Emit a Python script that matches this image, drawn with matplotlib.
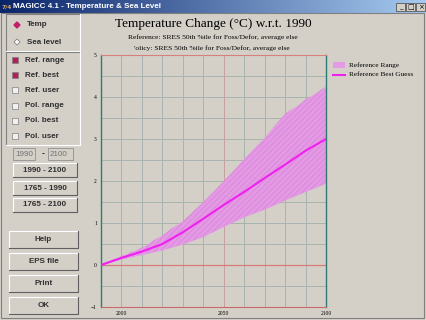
import numpy as np
import matplotlib.pyplot as plt
from matplotlib.patches import Rectangle, Polygon
from matplotlib.colors import LinearSegmentedColormap

# values
years = [1990, 2000, 2010, 2020, 2030, 2040, 2050, 2060, 2070, 2080, 2090, 2100]
best = [0.0, 0.17, 0.32, 0.5, 0.78, 1.1, 1.43, 1.74, 2.07, 2.39, 2.72, 3.0]
upper = [0.0, 0.22, 0.42, 0.72, 1.06, 1.5, 2.0, 2.55, 3.05, 3.6, 3.95, 4.25]
lower = [0.0, 0.14, 0.25, 0.36, 0.5, 0.68, 0.92, 1.15, 1.33, 1.55, 1.75, 1.95]
yticks = [-1, 0, 1, 2, 3, 4, 5]
xticks = [2000, 2050, 2100]

W, H = 426, 320
BG = '#d4d0c8'

fig = plt.figure(figsize=(W / 100, H / 100), dpi=100, facecolor=BG)

# whole window drawn in pixel coords
gui = fig.add_axes([0, 0, 1, 1], zorder=0)
gui.set_xlim(0, W)
gui.set_ylim(H, 0)
gui.axis('off')
gui.set_facecolor(BG)

# title bar
grad = np.linspace(0, 1, 256).reshape(1, -1)
cm = LinearSegmentedColormap.from_list('tb', ['#0a246a', '#a6caf0'])
gui.imshow(grad, cmap=cm, extent=(0, W, 13, 0), aspect='auto', zorder=1)
gui.text(1.5, 6.8, '7/4', color='#d0a868', fontsize=4.2, fontweight='bold', va='center', zorder=2)
gui.text(13, 6.8, 'MAGICC 4.1 - Temperature & Sea Level', color='white', fontsize=5.8,
         fontweight='bold', va='center', family='Liberation Sans', zorder=2)
for i, s in enumerate(['_', '□', '×']):
    x0 = 396 + i * 10
    gui.add_patch(Rectangle((x0, 3), 9, 8, facecolor=BG, edgecolor='#404040', lw=0.5, zorder=2))
    gui.text(x0 + 4.5, 7, s, fontsize=5, ha='center', va='center', zorder=3)

# window frame
gui.add_patch(Rectangle((1, 13), W - 3, H - 15, fill=False, edgecolor='#808080', lw=0.8, zorder=1))


def bevel(x, y, w, h, raised=True):
    light, dark = ('white', '#606060') if raised else ('#808080', 'white')
    gui.add_patch(Rectangle((x, y), w, h, facecolor=BG, edgecolor='none', zorder=1))
    gui.plot([x, x, x + w], [y + h, y, y], color=light, lw=0.8, zorder=2)
    gui.plot([x, x + w, x + w], [y + h, y + h, y], color=dark, lw=0.8, zorder=2)


# group boxes
bevel(6, 14, 74, 37, raised=False)
bevel(6, 52, 74, 93, raised=False)

gui.add_patch(Polygon([(17, 22), (20, 25), (17, 28), (14, 25)], closed=True,
                      facecolor='#c02068', edgecolor='#c02068', zorder=3))
gui.add_patch(Polygon([(17, 39), (20, 42), (17, 45), (14, 42)], closed=True,
                      facecolor='white', edgecolor='#808080', lw=0.6, zorder=3))
gui.text(27, 25, 'Temp', fontsize=5.8, fontweight='bold', va='center', family='Liberation Sans',
         color='#303030', zorder=3)
gui.text(27, 42, 'Sea level', fontsize=5.8, fontweight='bold', va='center', family='Liberation Sans',
         color='#303030', zorder=3)

checks = ['Ref. range', 'Ref. best', 'Ref. user', 'Pol. range', 'Pol. best', 'Pol. user']
checked = [True, True, False, False, False, False]
for i, (lab, on) in enumerate(zip(checks, checked)):
    y = 60 + i * 15.2
    gui.add_patch(Rectangle((12, y - 3), 6, 6, facecolor='#b0205a' if on else '#f0f0f0',
                            edgecolor='#808080', lw=0.5, zorder=3))
    gui.text(25, y, lab, fontsize=5.8, fontweight='bold', va='center', family='Liberation Sans',
             color='#303030', zorder=3)

# year boxes
for x0, w, s in [(13, 22, '1990'), (48, 25, '2100')]:
    gui.add_patch(Rectangle((x0, 148), w, 12, facecolor=BG, edgecolor='#909090', lw=0.6, zorder=3))
    gui.text(x0 + 2, 154, s, fontsize=5.8, va='center', color='#707070', family='Liberation Sans', zorder=4)
gui.text(43, 154, '-', fontsize=5.8, va='center', ha='center', zorder=4)

buttons = [(13, 163, 64, 14, '1990 - 2100'), (13, 181, 64, 14, '1765 - 1990'),
           (13, 198, 64, 14, '1765 - 2100'), (9, 231, 69, 17, 'Help'),
           (9, 253, 69, 17, 'EPS file'), (9, 275, 69, 17, 'Print'), (9, 297, 69, 17, 'OK')]
for x0, y0, w, h, s in buttons:
    bevel(x0, y0, w, h)
    gui.text(x0 + w / 2, y0 + h / 2, s, fontsize=5.8, fontweight='bold', ha='center', va='center',
             family='Liberation Sans', color='#303030', zorder=3)

# chart titles
gui.text(213, 24, 'Temperature Change (\u00b0C) w.r.t. 1990', fontsize=9.5, ha='center', va='center',
         family='Liberation Serif', zorder=3)
gui.text(213, 37.5, 'Reference: SRES 50th %ile for Foss/Defor, average else', fontsize=5.4,
         ha='center', va='center', family='Liberation Serif', zorder=3)
gui.text(212, 48, "'olicy: SRES 50th %ile for Foss/Defor, average else", fontsize=5.4,
         ha='center', va='center', family='Liberation Serif', zorder=3)

# legend
gui.add_patch(Rectangle((333, 62), 12, 6, facecolor='#e49ae4', edgecolor='none', zorder=3))
gui.plot([333, 345], [75, 75], color='#f020f0', lw=1.5, zorder=3)
gui.text(349, 65, 'Reference Range', fontsize=5.2, va='center', family='Liberation Serif', zorder=3)
gui.text(349, 75, 'Reference Best Guess', fontsize=5.2, va='center', family='Liberation Serif', zorder=3)

# plot area
ax = fig.add_axes([101 / W, 13 / H, 225 / W, 252 / H], zorder=2)
ax.set_facecolor(BG)
ax.set_xlim(1990, 2100)
ax.set_ylim(-1, 5)
for x in range(2000, 2100, 10):
    ax.axvline(x, color='#a7b4b0', lw=0.7, zorder=0)
for y in np.arange(-0.5, 5, 0.5):
    ax.axhline(y, color='#a7b4b0', lw=0.7, zorder=0)
ax.axhline(0, color='#d87a7a', lw=0.9, zorder=1)
ax.axvline(2050, color='#c9a0a0', lw=0.7, zorder=0)

ax.fill_between(years, lower, upper, color='#e49ae4', lw=0, zorder=2)
ax.fill_between(years, lower, upper, facecolor='none', edgecolor='#dc8ddc', hatch='//////', lw=0, zorder=2)
ax.plot(years, best, color='#f020f0', lw=1.5, solid_joinstyle='round', zorder=3)

ax.set_xticks(xticks)
ax.set_yticks(yticks)
ax.tick_params(length=0, labelsize=4, pad=3)
for lab in ax.get_xticklabels() + ax.get_yticklabels():
    lab.set_family('Liberation Serif')
for sp in ['left', 'right']:
    ax.spines[sp].set_color('#2f7a76')
    ax.spines[sp].set_linewidth(1.0)
ax.spines['top'].set_color('#d88080')
ax.spines['bottom'].set_color('#c86a6a')

fig.savefig('out.png', dpi=100, facecolor=BG)
